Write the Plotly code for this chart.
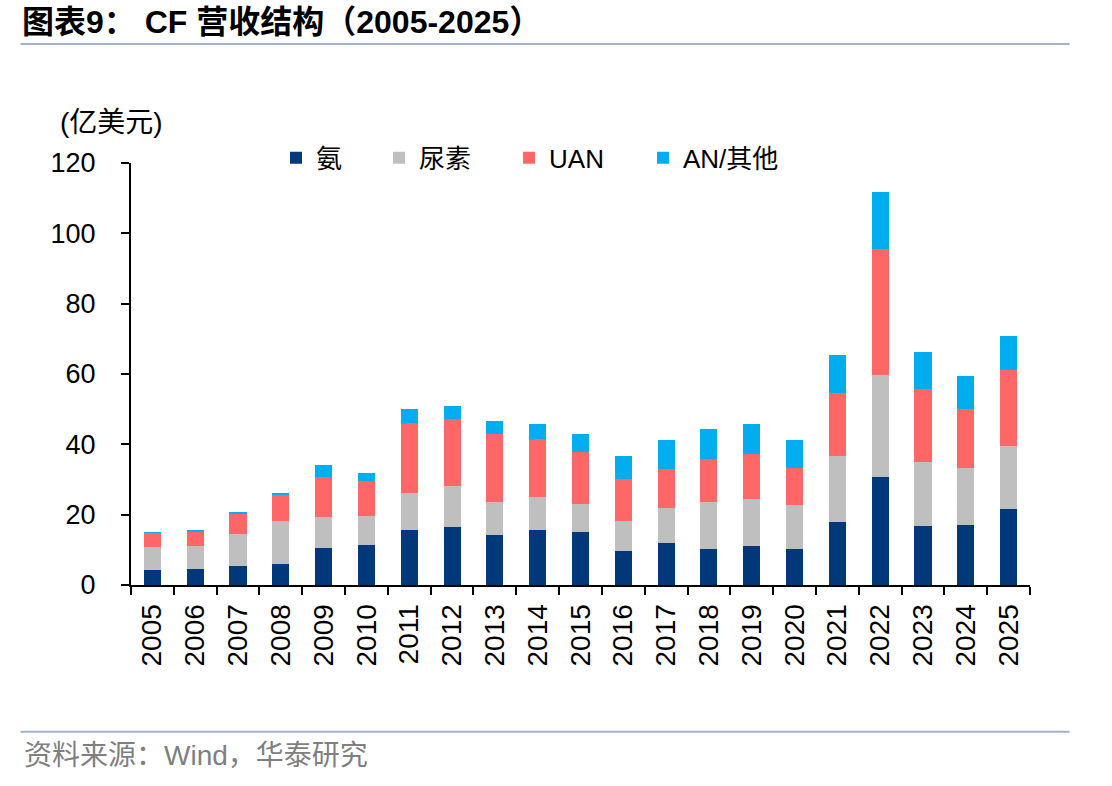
import plotly.graph_objects as go

years = [str(y) for y in range(2005, 2026)]
ammonia = [4.3, 4.5, 5.5, 6.1, 10.6, 11.3, 15.5, 16.6, 14.3, 15.6, 15.2, 9.7, 12.0, 10.2, 11.1, 10.1, 17.8, 30.8, 16.8, 17.2, 21.6]
urea    = [6.5, 6.6, 9.0, 12.1, 8.8, 8.3, 10.7, 11.6, 9.3, 9.4, 7.8, 8.5, 9.8, 13.3, 13.4, 12.7, 18.9, 29.0, 18.2, 16.2, 18.0]
uan     = [4.1, 4.2, 5.9, 7.5, 11.3, 10.0, 20.0, 18.9, 19.3, 16.5, 14.9, 12.0, 11.2, 12.3, 12.7, 10.6, 17.9, 35.7, 20.7, 16.7, 21.5]
an_other = [0.1, 0.1, 0.1, 0.3, 3.5, 2.3, 3.9, 3.8, 3.8, 4.3, 5.1, 6.5, 8.3, 8.5, 8.6, 7.9, 10.8, 16.2, 10.6, 9.3, 9.7]

series_names = ["氨", "尿素", "UAN", "AN/其他"]
colors = ["#00387A", "#BFBFBF", "#FF6666", "#00AEEF"]
legend_ids = ["legend", "legend2", "legend3", "legend4"]
legend_x = [0.1613, 0.2759, 0.4205, 0.5695]

CJK = "Arial, 'Liberation Sans', 'Noto Sans CJK SC'"

fig = go.Figure()
for name, vals, c, lid in zip(series_names, [ammonia, urea, uan, an_other], colors, legend_ids):
    fig.add_trace(go.Bar(x=years, y=vals, name=name, legend=lid,
                         marker=dict(color=c, line=dict(width=0))))

legend_common = dict(orientation="h", yanchor="middle", xanchor="left", y=1.012,
                     font=dict(size=26, family=CJK), bgcolor="rgba(0,0,0,0)", itemclick=False)

fig.update_layout(
    barmode="stack",
    bargap=0.6,
    width=1112, height=786,
    paper_bgcolor="white", plot_bgcolor="white",
    margin=dict(l=131, r=82, t=163, b=201),
    font=dict(family=CJK, color="black", size=24),
    showlegend=True,
    legend=dict(x=legend_x[0], **legend_common),
    legend2=dict(x=legend_x[1], **legend_common),
    legend3=dict(x=legend_x[2], **legend_common),
    legend4=dict(x=legend_x[3], **legend_common),
    xaxis=dict(type="category", tickangle=-90, tickson="boundaries", ticks="outside", ticklen=8,
               tickwidth=2, tickcolor="black", showline=True, linecolor="black", linewidth=2,
               tickfont=dict(size=28), showgrid=False, ticklabelstandoff=6),
    yaxis=dict(range=[0, 120], dtick=20, ticks="outside", ticklen=8, tickwidth=2, tickcolor="black",
               showline=True, linecolor="black", linewidth=2, showgrid=False, zeroline=False,
               tickfont=dict(size=27), ticklabelstandoff=20),
)

fig.add_annotation(xref="paper", yref="paper", x=-0.081, y=1.095, xanchor="left", yanchor="middle",
                   text="(亿美元)", showarrow=False, font=dict(size=28, family=CJK))
fig.add_annotation(xref="paper", yref="paper", x=-0.124, y=1.335, xanchor="left", yanchor="middle",
                   text="<b>图表9： CF 营收结构（2005-2025）</b>", showarrow=False,
                   font=dict(size=32, family="Arial, 'Noto Sans CJK SC'"))
fig.add_annotation(xref="paper", yref="paper", x=-0.121, y=-0.403, xanchor="left", yanchor="middle",
                   text="资料来源：Wind，华泰研究", showarrow=False,
                   font=dict(size=28, family=CJK, color="#7F7F7F"))

fig.add_shape(type="line", xref="paper", yref="paper", x0=-0.123, x1=1.044, y0=1.282, y1=1.282,
              line=dict(color="#9FB3CC", width=2))
fig.add_shape(type="line", xref="paper", yref="paper", x0=-0.123, x1=1.044, y0=-0.348, y1=-0.348,
              line=dict(color="#9FB3CC", width=2))

fig.write_html("out.html")
